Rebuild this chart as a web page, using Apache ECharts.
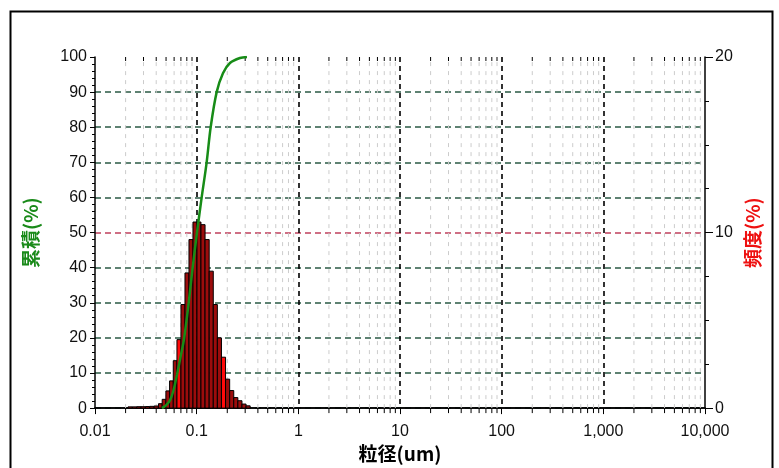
<!DOCTYPE html>
<html>
<head>
<meta charset="utf-8">
<script src="https://cdn.jsdelivr.net/npm/echarts@6/dist/echarts.min.js"></script>
<style>
  html, body { margin: 0; padding: 0; background: #fff; }
  #chart { width: 779px; height: 468px; }
</style>
</head>
<body>
<div id="chart"></div>
<script>
// ---- data ----
// particle-size bin edges (um) of the frequency histogram
const binEdges = [0.02112, 0.02332, 0.02570, 0.02834, 0.03130, 0.03450, 0.03812,
  0.04211, 0.04579, 0.04980, 0.05415, 0.05888, 0.06401, 0.07008, 0.07673, 0.08401,
  0.09197, 0.10068, 0.11022, 0.12094, 0.13275, 0.14565, 0.15981, 0.17536, 0.19238,
  0.21111, 0.23166, 0.25418, 0.27892, 0.30599, 0.33577];
// frequency (%) per bin
const frequency = [0.07, 0.07, 0.08, 0.08, 0.09, 0.10, 0.12,
  0.25, 0.5, 0.98, 1.55, 2.7, 3.9, 5.9, 7.7, 9.6,
  10.6, 10.6, 10.45, 9.6, 7.8, 5.9, 4.0, 2.9, 1.65,
  1.0, 0.6, 0.42, 0.23, 0.13];
// bins drawn in bright red in the reference
const highlightBins = [12, 23];
// cumulative curve (um, %)
const cumSizes = [0.0456, 0.0499, 0.0546, 0.0591, 0.0640, 0.0693, 0.0750, 0.0831,
  0.0909, 0.1007, 0.1120, 0.1254, 0.1373, 0.1573, 0.1814, 0.2126, 0.2666, 0.3123];
const cumValues = [0, 0.8, 2.2, 5, 9.5, 14.5, 19.6, 29.5, 39.5, 50, 60, 70, 80, 90,
  95.4, 98.3, 99.7, 100];
const xTickLabels = ['0.01', '0.1', '1', '10', '100', '1,000', '10,000'];
const xName = '粒径(um)';
const yLeftName = '累積(%)';
const yRightName = '頻度(%)';

// ---- build ----
const histData = frequency.map((f, i) => [binEdges[i], binEdges[i + 1], f, i]);
const cumData = cumSizes.map((s, i) => [s, cumValues[i]]);
const minorValues = [];
for (let e = -2; e < 4; e++) {
  for (let m = 2; m <= 9; m++) minorValues.push([m * Math.pow(10, e)]);
}
const numFont = "'Liberation Sans', Arial, sans-serif";
const cjkFont = "'Noto Sans CJK JP', 'Noto Sans', sans-serif";
const G = '#2a5a44', R = '#c0405c';

const chart = echarts.init(document.getElementById('chart'), null, { renderer: 'canvas' });
chart.setOption({
  backgroundColor: '#ffffff',
  animation: false,
  graphic: [{
    type: 'rect', left: 8, top: 9, z: -10,
    shape: { width: 762, height: 470 },
    style: { fill: 'none', stroke: '#000', lineWidth: 2 }
  }],
  grid: { left: 95, right: 74, top: 57, bottom: 59 },
  xAxis: [{
    type: 'log', logBase: 10, min: 0.01, max: 10000, position: 'bottom',
    name: xName, nameLocation: 'middle', nameGap: 34,
    nameTextStyle: { fontFamily: cjkFont, fontWeight: 'bold', fontSize: 19, color: '#000' },
    axisLine: { show: true, lineStyle: { color: '#000', width: 1.5 } },
    axisTick: { show: true, inside: false, length: 6, lineStyle: { color: '#000' } },
    axisLabel: {
      margin: 15, fontFamily: numFont, fontSize: 16, color: '#111',
      formatter: v => xTickLabels[Math.round(Math.log10(v)) + 2]
    },
    splitLine: { show: true, showMinLine: false, showMaxLine: false,
      lineStyle: { color: '#000', type: [5, 4], width: 1.6 } }
  }, {
    type: 'log', logBase: 10, min: 0.01, max: 10000, position: 'top',
    axisLine: { show: true, lineStyle: { color: '#000', width: 1.5 } },
    axisTick: { show: true, inside: true, length: 5, lineStyle: { color: '#000' } },
    axisLabel: { show: false }, splitLine: { show: false }
  }],
  yAxis: [{
    type: 'value', min: 0, max: 100, interval: 10, position: 'left',
    name: yLeftName, nameLocation: 'middle', nameGap: 55, nameRotate: 90,
    nameTextStyle: { fontFamily: cjkFont, fontWeight: 'bold', fontSize: 19, color: '#1a8a1a' },
    axisLine: { show: true, lineStyle: { color: '#000', width: 1.5 } },
    axisTick: { show: true, length: 5, lineStyle: { color: '#000' } },
    minorTick: { show: true, splitNumber: 5, length: 3, lineStyle: { color: '#000' } },
    axisLabel: { margin: 8, fontFamily: numFont, fontSize: 16, color: '#111' },
    splitLine: { show: true, lineStyle: { color: [G, G, G, G, G, R, G, G, G, G, 'rgba(0,0,0,0)'], type: [6, 4], width: 1.5 } }
  }, {
    type: 'value', min: 0, max: 20, interval: 10, position: 'right',
    name: yRightName, nameLocation: 'middle', nameGap: 38, nameRotate: 90,
    nameTextStyle: { fontFamily: cjkFont, fontWeight: 'bold', fontSize: 19, color: '#ee1111' },
    axisLine: { show: true, lineStyle: { color: '#000', width: 1.5 } },
    axisTick: { show: true, length: 8, lineStyle: { color: '#000' } },
    minorTick: { show: true, splitNumber: 4, length: 4, lineStyle: { color: '#000' } },
    axisLabel: { margin: 10, fontFamily: numFont, fontSize: 16, color: '#111' },
    splitLine: { show: false }
  }],
  series: [{
    type: 'custom', name: 'minorGrid', xAxisIndex: 0, yAxisIndex: 0, z: 1, silent: true,
    data: minorValues, encode: { x: 0 },
    renderItem: (params, api) => {
      const v = api.value(0);
      const b = api.coord([v, 0]);
      const t = api.coord([v, 100]);
      return {
        type: 'group', children: [
          { type: 'line', shape: { x1: b[0], y1: b[1], x2: t[0], y2: t[1] },
            style: { stroke: '#cccccc', lineWidth: 1, lineDash: [4, 5] } },
          { type: 'line', shape: { x1: b[0], y1: b[1], x2: b[0], y2: b[1] + 5 },
            style: { stroke: '#000', lineWidth: 1 } },
          { type: 'line', shape: { x1: t[0], y1: t[1], x2: t[0], y2: t[1] + 4 },
            style: { stroke: '#000', lineWidth: 1 } }
        ]
      };
    }
  }, {
    type: 'custom', name: '頻度', xAxisIndex: 0, yAxisIndex: 1, z: 3,
    data: histData, encode: { x: [0, 1], y: 2 },
    renderItem: (params, api) => {
      const lo = api.value(0), hi = api.value(1), f = api.value(2), idx = api.value(3);
      const p0 = api.coord([lo, 0]);
      const p1 = api.coord([hi, f]);
      return {
        type: 'rect',
        shape: { x: p0[0], y: p1[1], width: p1[0] - p0[0], height: p0[1] - p1[1] },
        style: { fill: highlightBins.indexOf(idx) >= 0 ? '#ff0a0a' : '#9c0c0c', stroke: '#000', lineWidth: 1 }
      };
    }
  }, {
    type: 'line', name: '累積', xAxisIndex: 0, yAxisIndex: 0, z: 4,
    data: cumData, showSymbol: false, symbol: 'none', smooth: 0.3,
    lineStyle: { color: '#178c17', width: 2.5 }
  }]
});
</script>
</body>
</html>
